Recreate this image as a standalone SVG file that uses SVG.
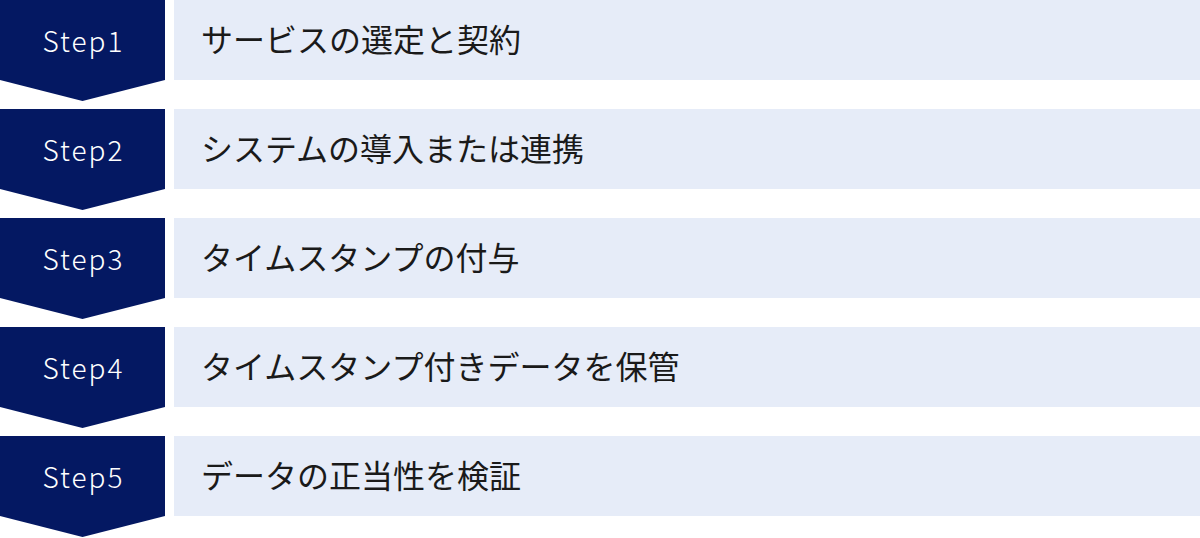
<svg xmlns="http://www.w3.org/2000/svg" width="1200" height="538" viewBox="0 0 1200 538">
<style>
.chev{fill:#041862}
.band{fill:#E6ECF8}
.step{font-family:"Noto Sans CJK JP","Noto Sans",sans-serif;font-size:28px;font-weight:300;fill:#ffffff;text-anchor:middle;letter-spacing:2px}
.label{font-family:"Noto Sans CJK JP","Noto Sans",sans-serif;font-size:32px;fill:#1a1a1a}
</style>
<defs>
<polygon id="chevron" points="0,0 165,0 165,80 82.5,101 0,80"/>
</defs>
<g id="step1" transform="translate(0,0)">
<use href="#chevron" class="chev"/>
<rect class="band" x="174" y="0" width="1026" height="80"/>
<text class="step" x="83.5" y="52">Step1</text>
<text class="label" x="201" y="52">サービスの選定と契約</text>
</g>
<g id="step2" transform="translate(0,109)">
<use href="#chevron" class="chev"/>
<rect class="band" x="174" y="0" width="1026" height="80"/>
<text class="step" x="83.5" y="52">Step2</text>
<text class="label" x="201" y="52">システムの導入または連携</text>
</g>
<g id="step3" transform="translate(0,218)">
<use href="#chevron" class="chev"/>
<rect class="band" x="174" y="0" width="1026" height="80"/>
<text class="step" x="83.5" y="52">Step3</text>
<text class="label" x="201" y="52">タイムスタンプの付与</text>
</g>
<g id="step4" transform="translate(0,327)">
<use href="#chevron" class="chev"/>
<rect class="band" x="174" y="0" width="1026" height="80"/>
<text class="step" x="83.5" y="52">Step4</text>
<text class="label" x="201" y="52">タイムスタンプ付きデータを保管</text>
</g>
<g id="step5" transform="translate(0,436)">
<use href="#chevron" class="chev"/>
<rect class="band" x="174" y="0" width="1026" height="80"/>
<text class="step" x="83.5" y="52">Step5</text>
<text class="label" x="201" y="52">データの正当性を検証</text>
</g>
<g id="connectors"></g>
</svg>
